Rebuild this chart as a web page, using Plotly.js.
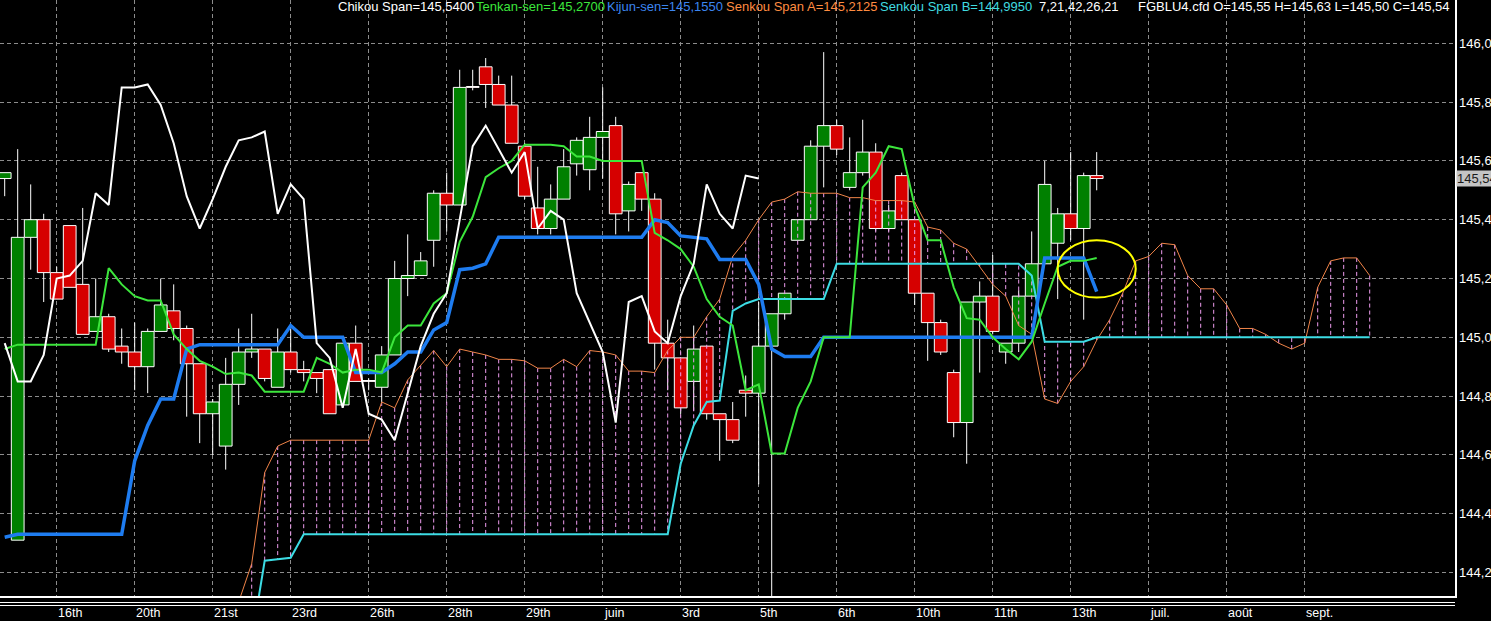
<!DOCTYPE html>
<html>
<head>
<meta charset="utf-8">
<script src="https://cdn.plot.ly/plotly-3.0.1.min.js"></script>
<style>
  html, body { margin: 0; padding: 0; background: #000; }
  #chart { width: 1491px; height: 621px; }
</style>
</head>
<body>
<div id="chart"></div>
<script>
// one entry per bar, bar 0 is the partial candle on the left edge
const opens = [145.54,144.31,145.34,145.40,145.22,145.38,145.18,145.02,145.07,144.97,
  144.95,144.90,145.02,145.09,145.03,144.91,144.74,144.63,144.84,144.95,
  144.96,144.83,144.95,144.89,144.88,144.89,144.77,144.98,144.85,144.83,
  144.94,145.20,145.21,145.33,145.49,145.45,145.85,145.92,145.86,145.79,
  145.65,145.44,145.37,145.47,145.59,145.57,145.68,145.72,145.43,145.56,
  145.47,144.98,144.93,144.85,144.97,144.74,144.72,144.82,144.81,144.97,
  145.08,145.33,145.40,145.65,145.72,145.51,145.56,145.63,145.37,145.55,
  145.40,145.15,145.05,144.88,144.71,145.12,145.14,144.95,144.98,145.14,
  145.25,145.32,145.42,145.37,145.55];
const highs = [145.56,145.64,145.52,145.42,145.24,145.38,145.44,145.20,145.08,145.03,
  145.05,145.03,145.20,145.18,145.04,144.91,144.79,144.93,145.03,145.08,
  144.96,145.03,145.03,144.92,144.88,144.89,144.98,145.04,144.86,144.97,
  145.26,145.35,145.29,145.50,145.56,145.91,145.91,145.95,145.89,145.89,
  145.66,145.58,145.52,145.64,145.68,145.75,145.85,145.75,145.53,145.56,
  145.49,145.06,144.93,145.04,144.97,144.74,144.78,144.87,145.12,145.08,
  145.15,145.40,145.67,145.97,145.74,145.68,145.74,145.66,145.45,145.56,
  145.40,145.15,145.06,144.89,145.12,145.19,145.28,144.98,145.16,145.36,
  145.60,145.44,145.63,145.56,145.63];
const lows = [145.48,144.31,145.23,145.12,145.13,145.17,145.01,145.02,144.95,144.91,
  144.82,144.81,145.02,144.99,144.73,144.64,144.60,144.55,144.77,144.93,
  144.85,144.83,144.88,144.85,144.81,144.74,144.77,144.85,144.82,144.78,
  144.94,145.14,145.21,145.24,145.36,145.45,145.84,145.78,145.79,145.66,
  145.47,145.35,145.35,145.47,145.55,145.50,145.54,145.35,145.36,145.43,
  144.89,144.82,144.74,144.75,144.72,144.58,144.64,144.73,144.50,143.90,
  145.06,145.33,145.40,145.51,145.62,145.50,145.55,145.36,145.36,145.40,
  145.11,144.92,144.94,144.66,144.57,144.88,145.01,144.91,144.95,145.14,
  145.25,145.13,145.33,145.06,145.50];
const closes = [145.56,145.34,145.40,145.22,145.13,145.17,145.01,145.07,144.96,144.95,
  144.90,145.02,145.11,145.03,144.91,144.74,144.78,144.84,144.95,144.96,
  144.86,144.95,144.89,144.88,144.86,144.74,144.98,144.85,144.85,144.94,
  145.20,145.21,145.26,145.49,145.45,145.85,145.85,145.86,145.79,145.66,
  145.48,145.37,145.47,145.58,145.67,145.68,145.70,145.42,145.52,145.47,
  144.98,144.93,144.76,144.96,144.74,144.72,144.65,144.81,144.97,145.08,
  145.15,145.40,145.65,145.72,145.64,145.56,145.63,145.37,145.43,145.40,
  145.15,145.05,144.95,144.71,145.12,145.14,145.02,144.98,145.14,145.25,
  145.52,145.42,145.37,145.55,145.54];

// Tenkan-sen and Kijun-sen, bars 0..84
const tenkan = [144.96,144.975,144.975,144.975,144.975,144.975,144.975,144.975,145.235,145.18,
  145.14,145.125,145.125,145.01,144.96,144.92,144.90,144.875,144.88,144.87,
  144.815,144.815,144.815,144.815,144.93,144.91,144.88,144.89,144.89,144.88,
  145.00,145.04,145.04,145.115,145.15,145.325,145.41,145.545,145.575,145.60,
  145.655,145.655,145.655,145.65,145.615,145.615,145.60,145.60,145.60,145.60,
  145.355,145.33,145.30,145.24,145.13,145.07,145.04,144.82,144.84,144.605,
  144.605,144.76,144.85,145.00,145.00,145.00,145.51,145.56,145.65,145.64,
  145.445,145.33,145.33,145.17,145.065,145.06,145.00,144.96,144.925,144.985,
  145.115,145.24,145.26,145.26,145.27];
const kijun = [144.32,144.33,144.33,144.33,144.33,144.33,144.33,144.33,144.33,144.33,
  144.58,144.70,144.79,144.79,144.96,144.975,144.975,144.975,144.975,144.975,
  144.975,144.975,145.04,145.00,145.00,145.00,145.00,144.88,144.88,144.88,
  144.91,144.95,144.95,145.025,145.05,145.23,145.235,145.25,145.34,145.34,
  145.34,145.34,145.34,145.34,145.34,145.34,145.34,145.34,145.34,145.34,
  145.40,145.39,145.345,145.34,145.335,145.265,145.265,145.265,145.18,144.96,
  144.935,144.935,144.935,145.00,145.00,145.00,145.00,145.00,145.00,145.00,
  145.00,145.00,145.00,145.00,145.00,145.00,145.00,145.00,145.00,145.00,
  145.27,145.27,145.27,145.27,145.155];

// Chikou span, bars 0..58
const chikou = [144.98,144.85,144.85,144.94,145.20,145.21,145.26,145.49,145.45,145.85,
  145.85,145.86,145.79,145.66,145.48,145.37,145.47,145.58,145.67,145.68,
  145.70,145.42,145.52,145.47,144.98,144.93,144.76,144.96,144.74,144.72,
  144.65,144.81,144.97,145.08,145.15,145.40,145.65,145.72,145.64,145.56,
  145.63,145.37,145.43,145.40,145.15,145.05,144.95,144.71,145.12,145.14,
  145.02,144.98,145.14,145.25,145.52,145.42,145.37,145.55,145.54];

// Senkou spans, shifted ahead of price
const senkouAStart = 18;
const senkouA = [144.10,144.23,144.54,144.63,144.65,144.65,144.65,144.65,144.65,144.65,
  144.65,144.78,144.76,144.855,144.905,144.955,144.90,144.96,144.95,144.94,
  144.925,144.925,144.92,144.895,144.895,144.925,144.90,144.955,144.95,144.94,
  144.885,144.885,144.88,144.955,145.00,145.00,145.07,145.13,145.275,145.33,
  145.40,145.46,145.47,145.495,145.49,145.49,145.49,145.475,145.475,145.465,
  145.465,145.465,145.46,145.375,145.365,145.32,145.30,145.24,145.18,145.14,
  145.04,145.01,144.79,144.775,144.85,144.90,144.99,145.06,145.15,145.26,
  145.275,145.32,145.315,145.21,145.165,145.165,145.11,145.03,145.03,145.01,
  144.98,144.96,144.98,145.17,145.26,145.27,145.27,145.21];
const senkouBStart = 19;
const senkouB = [143.97,144.24,144.245,144.25,
  144.33,144.33,144.33,144.33,144.33,144.33,144.33,144.33,144.33,144.33,
  144.33,144.33,144.33,144.33,144.33,144.33,144.33,144.33,144.33,144.33,
  144.33,144.33,144.33,144.33,144.33,144.33,144.33,144.33,144.33,
  144.57,144.70,144.78,144.785,145.09,145.115,
  145.13,145.13,145.13,145.13,145.13,145.13,
  145.25,145.25,145.25,145.25,145.25,145.25,145.25,145.25,145.25,145.25,
  145.25,145.25,145.25,145.25,145.25,
  145.21,
  144.985,144.985,144.985,144.985,
  145.00,145.00,145.00,145.00,145.00,145.00,145.00,145.00,145.00,145.00,145.00,
  145.00,145.00,145.00,145.00,145.00,145.00,145.00,145.00,145.00,145.00,145.00];

// date labels under the vertical grid lines
const tickBars = [4,10,16,22,28,34,40,46,52,58,64,70,76,82,88,94,100];
const tickLabels = ['16th','20th','21st','23rd','26th','28th','29th','juin','3rd','5th',
  '6th','10th','11th','13th','juil.','août','sept.'];

const lastPrice = 145.54;

const bars = opens.map((_, i) => i);
const barsFrom = (start, arr) => arr.map((_, k) => start + k);

// candle bodies as bars (base = lower of open/close), wicks as line segments
const bodyBase = bars.map(i => Math.min(opens[i], closes[i]));
const bodySize = bars.map(i => Math.max(Math.abs(closes[i] - opens[i]), 0.003));
const bodyColor = bars.map(i => closes[i] > opens[i] ? '#008000' : '#d60000');
const wickX = [], wickY = [];
bars.forEach(i => {
  const top = Math.max(opens[i], closes[i]);
  const bot = Math.min(opens[i], closes[i]);
  if (highs[i] > top) { wickX.push(i, i, null); wickY.push(top, highs[i], null); }
  if (lows[i] < bot) { wickX.push(i, i, null); wickY.push(lows[i], bot, null); }
});

// vertical dashed strokes between the two senkou spans
const cloudX = [], cloudY = [];
for (let i = senkouBStart; i < senkouAStart + senkouA.length; i++) {
  cloudX.push(i, i, null);
  cloudY.push(senkouA[i - senkouAStart], senkouB[i - senkouBStart], null);
}

const FONT = 'Liberation Sans, Arial, sans-serif';

const traces = [
  {
    type: 'bar', x: bars, y: bodySize, base: bodyBase, width: 0.98,
    marker: { color: bodyColor, line: { color: '#ffffff', width: 1 } },
    showlegend: false
  },
  {
    type: 'scatter', mode: 'lines', x: wickX, y: wickY,
    line: { color: '#ffffff', width: 1 }, connectgaps: false, showlegend: false
  },
  {
    type: 'scatter', mode: 'lines', x: cloudX, y: cloudY,
    line: { color: '#ee9cee', width: 1, dash: '4px,3px' },
    connectgaps: false, showlegend: false
  },
  {
    type: 'scatter', mode: 'lines',
    x: barsFrom(senkouAStart, senkouA), y: senkouA,
    line: { color: '#f08448', width: 1 }, showlegend: false
  },
  {
    type: 'scatter', mode: 'lines',
    x: barsFrom(senkouBStart, senkouB), y: senkouB,
    line: { color: '#3cdce4', width: 2 }, showlegend: false
  },
  {
    type: 'scatter', mode: 'lines', x: bars, y: kijun,
    line: { color: '#1e7cf0', width: 3.5 }, showlegend: false
  },
  {
    type: 'scatter', mode: 'lines', x: bars, y: tenkan,
    line: { color: '#3ce63c', width: 2 }, showlegend: false
  },
  {
    type: 'scatter', mode: 'lines', x: barsFrom(0, chikou), y: chikou,
    line: { color: '#ffffff', width: 2 }, showlegend: false
  }
];

const plotW = 1455, plotH = 596;

const header = [
  { text: 'Chikou Span=145,5400', color: '#ffffff', px: 337 },
  { text: 'Tenkan-sen=145,2700', color: '#3ce63c', px: 475 },
  { text: 'Kijun-sen=145,1550', color: '#3c86f0', px: 606 },
  { text: 'Senkou Span A=145,2125', color: '#ff8c40', px: 725 },
  { text: 'Senkou Span B=144,9950', color: '#40dce0', px: 879 },
  { text: '7,21,42,26,21', color: '#ffffff', px: 1038 },
  { text: 'FGBLU4.cfd O=145,55 H=145,63 L=145,50 C=145,54', color: '#ffffff', px: 1137 }
];

const annotations = header.map(h => ({
  xref: 'paper', yref: 'paper', x: h.px / plotW, y: 1 - 6 / plotH,
  xanchor: 'left', yanchor: 'middle', showarrow: false, borderpad: 0,
  text: h.text, font: { family: FONT, size: 13, color: h.color }
}));

tickBars.forEach((b, k) => {
  annotations.push({
    xref: 'x', yref: 'paper', x: b, y: -(613 - plotH) / plotH,
    xanchor: 'left', yanchor: 'middle', showarrow: false, borderpad: 0,
    text: tickLabels[k], font: { family: FONT, size: 12.5, color: '#ffffff' }
  });
});

annotations.push({
  xref: 'paper', yref: 'y', x: 1, y: lastPrice, xanchor: 'left', yanchor: 'middle',
  xshift: 1, showarrow: false, borderpad: 0, bgcolor: '#c4c4c4',
  text: '145,54', font: { family: FONT, size: 13, color: '#1a1a1a' }
});

const layout = {
  width: 1491, height: 621,
  margin: { l: 0, r: 36, t: 0, b: 25 },
  paper_bgcolor: '#000000', plot_bgcolor: '#000000',
  separators: ', ',
  font: { family: FONT, size: 13, color: '#ffffff' },
  showlegend: false,
  hovermode: false,
  barmode: 'overlay',
  xaxis: {
    range: [-4.7 / 13, (plotW - 4.7) / 13],
    tickmode: 'array', tickvals: tickBars, showticklabels: false,
    showgrid: true, gridcolor: '#8c8c8c', gridwidth: 1, griddash: '4px,3px',
    zeroline: false, showline: true, linecolor: '#ffffff', linewidth: 1.5,
    ticks: '', fixedrange: true
  },
  yaxis: {
    side: 'right',
    range: [146 - (plotH - 43.3) / 294, 146 + 43.3 / 294],
    tickmode: 'linear', tick0: 144.2, dtick: 0.2, tickformat: '.2f',
    showgrid: true, gridcolor: '#8c8c8c', gridwidth: 1, griddash: '4px,3px',
    zeroline: false, showline: true, linecolor: '#ffffff', linewidth: 1.5,
    ticks: '', tickfont: { family: FONT, size: 13, color: '#ffffff' },
    fixedrange: true
  },
  shapes: [
    { type: 'line', xref: 'paper', yref: 'paper', x0: 0, x1: 1,
      y0: -6.5 / plotH, y1: -6.5 / plotH, line: { color: '#ffffff', width: 1 } },
    { type: 'line', xref: 'paper', yref: 'paper', x0: 0, x1: 1,
      y0: -9.5 / plotH, y1: -9.5 / plotH, line: { color: '#ffffff', width: 1 } },
    // hand-drawn yellow ring around the last Kijun/Tenkan cross
    { type: 'circle', xref: 'x', yref: 'y', x0: 81, x1: 87, y0: 145.135, y1: 145.33,
      line: { color: '#ffff00', width: 2 } }
  ],
  annotations: annotations
};

Plotly.newPlot('chart', traces, layout, { displayModeBar: false, staticPlot: true });
</script>
</body>
</html>
